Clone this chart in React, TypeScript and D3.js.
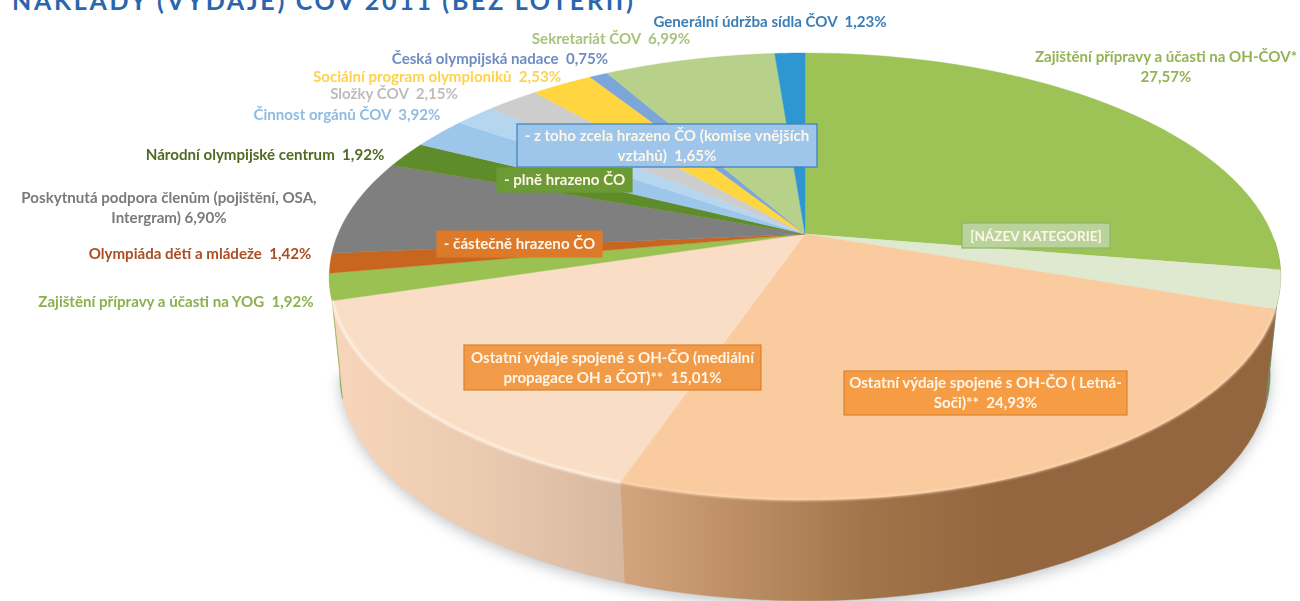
import React from "react";
import * as d3 from "d3";

const W = 1300, H = 601;
const categories = [
  "Zajištění přípravy a účasti na OH-ČOV", "Název kategorie", "Ostatní Letná-Soči", "Ostatní mediální",
  "YOG", "Olympiáda dětí a mládeže", "Podpora členům", "Národní olympijské centrum",
  "Činnost orgánů - plně", "Činnost orgánů - z toho", "Složky ČOV", "Sociální program",
  "Česká olympijská nadace", "Sekretariát ČOV", "Generální údržba",
];
const values = [27.57, 2.76, 24.93, 15.01, 1.92, 1.42, 6.90, 1.92, 2.27, 1.65, 2.15, 2.53, 0.75, 6.99, 1.23];
const colors = ["#9DC356", "#DEE9CF", "#FBCBA0", "#FADDC5", "#9BC152", "#C8661F", "#7F7F7F", "#5F8C2B", "#9CC7EA", "#B6D6EF", "#CDCDCD", "#FFD640", "#7CA5DA", "#B7D08A", "#2E97D2"];

type Lab = { lines: string[]; x: number; y: number; color: string };
const labels: Lab[] = [
  { lines: ["Generální údržba sídla ČOV  1,23%"], x: 770, y: 27, color: "#3E7DB5" },
  { lines: ["Sekretariát ČOV  6,99%"], x: 611, y: 44, color: "#A8C47A" },
  { lines: ["Česká olympijská nadace  0,75%"], x: 500, y: 64, color: "#6E8CC4" },
  { lines: ["Sociální program olympioniků  2,53%"], x: 437, y: 82, color: "#FFD24D" },
  { lines: ["Složky ČOV  2,15%"], x: 394, y: 99, color: "#BDBDBD" },
  { lines: ["Činnost orgánů ČOV  3,92%"], x: 347, y: 120, color: "#8FBCE3" },
  { lines: ["Národní olympijské centrum  1,92%"], x: 265, y: 160, color: "#4F6B22" },
  { lines: ["Poskytnutá podpora členům (pojištění, OSA,", "Intergram) 6,90%"], x: 169, y: 203, color: "#7A7A7A" },
  { lines: ["Olympiáda dětí a mládeže  1,42%"], x: 200, y: 259, color: "#A94F22" },
  { lines: ["Zajištění přípravy a účasti na YOG  1,92%"], x: 176, y: 307, color: "#8DB04E" },
  { lines: ["Zajištění přípravy a účasti na OH-ČOV*", "27,57%"], x: 1166, y: 62, color: "#93B354" },
];
type Box = { lines: string[]; x0: number; y0: number; x1: number; y1: number; fill: string; stroke: string; size?: number };
const boxes: Box[] = [
  { lines: ["- z toho zcela hrazeno ČO (komise vnějších", "vztahů)  1,65%"], x0: 517, y0: 124, x1: 817, y1: 167, fill: "#9DC6EA", stroke: "#3F7FB5" },
  { lines: ["- plně hrazeno ČO"], x0: 497, y0: 168, x1: 632, y1: 192, fill: "#6C9A34", stroke: "#6C9A34" },
  { lines: ["- částečně hrazeno ČO"], x0: 437, y0: 231, x1: 602, y1: 257, fill: "#DC7A2A", stroke: "#DC7A2A" },
  { lines: ["[NÁZEV KATEGORIE]"], x0: 962, y0: 223, x1: 1110, y1: 248, fill: "#B9D39A", stroke: "#8FB46A", size: 13.6 },
  { lines: ["Ostatní výdaje spojené s OH-ČO (mediální", "propagace OH a ČOT)**  15,01%"], x0: 464, y0: 345, x1: 761, y1: 390, fill: "#F19A46", stroke: "#D9822F" },
  { lines: ["Ostatní výdaje spojené s OH-ČO ( Letná-", "Soči)**  24,93%"], x0: 844, y0: 371, x1: 1127, y1: 415, fill: "#F59C45", stroke: "#D9822F" },
];

const cx = 805, cy = 234;
const persp = 0.19, aY = 215.4, cX = 467;
const rim = (t: number): [number, number] => {
  const u = Math.sin(t), v = -Math.cos(t), d = 1 - persp * v;
  return [cx + (cX * u) / d, cy + (aY * v) / d];
};
// lower edge of the wall: slightly narrower and shifted down
const low = (t: number): [number, number] => {
  const [x, y] = rim(t);
  return [cx + (x - cx) * 0.978, y + 98 + (y - 277) * 0.013];
};
const arcs = d3.pie<number>().sort(null).value((d) => d)(values);
const line = d3.line();
const samples = (a: number, b: number) => d3.range(0, 41).map((i) => a + ((b - a) * i) / 40);
const topPath = (a: number, b: number) => line([[cx, cy], ...samples(a, b).map(rim)])! + "Z";
const wallPath = (a: number, b: number) => line([...samples(a, b).map(rim), ...samples(b, a).map(low)])! + "Z";
const wallA = (92 * Math.PI) / 180, wallB = arcs[4].endAngle;
const outline = line([...samples(wallA, wallB).map(low)])!;
const font = "Lato, 'Open Sans', sans-serif";

export default function App() {
  const seam = arcs[2].endAngle;
  return (
    <svg width={W} height={H} style={{ position: "absolute", left: 0, top: 0, background: "#fff" }} fontFamily={font}>
      <defs>
        <filter id="sh" x="-10%" y="-10%" width="120%" height="130%"><feGaussianBlur stdDeviation="7" /></filter>
        <filter id="soft" x="-5%" y="-20%" width="110%" height="140%"><feGaussianBlur stdDeviation="1.2" /></filter>
        <filter id="tx" x="-5%" y="-20%" width="110%" height="140%"><feGaussianBlur stdDeviation="0.3" /></filter>
        <linearGradient id="wallBrown" gradientUnits="userSpaceOnUse" x1={626} x2={1000} y1={0} y2={0}>
          <stop offset="0" stopColor="#D2A47D" />
          <stop offset="0.3" stopColor="#BD8E66" />
          <stop offset="0.65" stopColor="#A17449" />
          <stop offset="1" stopColor="#93663F" />
        </linearGradient>
        <linearGradient id="wallPeach" gradientUnits="userSpaceOnUse" x1={335} x2={626} y1={0} y2={0}>
          <stop offset="0" stopColor="#F6D5BB" />
          <stop offset="0.5" stopColor="#EBCBB0" />
          <stop offset="1" stopColor="#D6B79F" />
        </linearGradient>
      </defs>
      <text x={12} y={10} fontSize={25} fontWeight={700} letterSpacing={2.7} fill="#2A66AE">NÁKLADY (VÝDAJE) ČOV 2011 (BEZ LOTERIÍ)</text>

      <path d={outline + "Z"} fill="#8E949C" opacity={0.55} filter="url(#sh)" transform="translate(0,4)" />
      {arcs.map((a, i) => {
        const s = Math.max(a.startAngle, wallA), e = Math.min(a.endAngle, wallB);
        if (e <= s) return null;
        const fill = i === 2 ? "url(#wallBrown)" : i === 3 ? "url(#wallPeach)" : i === 4 ? "#86AB4A" : "#6F8F5F";
        return <path key={i} d={wallPath(s, e)} fill={fill} stroke={fill} strokeWidth={0.4} />;
      })}
      {arcs.map((a, i) => (
        <path key={i} d={topPath(a.startAngle, a.endAngle)} fill={colors[i]} stroke={colors[i]} strokeWidth={0.4} />
      ))}
      <path d={line(samples(arcs[3].startAngle, arcs[3].endAngle).map(rim))!} fill="none" stroke="#FFF3E6" strokeWidth={2.5} filter="url(#soft)" />
      <path d={line(samples(arcs[2].startAngle, seam).map(rim))!} fill="none" stroke="#FFDDBB" strokeWidth={2} opacity={0.8} filter="url(#soft)" />

      <g fontSize={15.1} fontWeight={700} filter="url(#tx)">
        {labels.map((l, i) => (
          <text key={i} textAnchor="middle" fill={l.color}>
            {l.lines.map((t, j) => <tspan key={j} x={l.x} y={l.y + j * 20} style={{ whiteSpace: "pre" }}>{t}</tspan>)}
          </text>
        ))}
        {boxes.map((b, i) => {
          const mx = (b.x0 + b.x1) / 2, my = (b.y0 + b.y1) / 2;
          const n = b.lines.length;
          return (
            <g key={i}>
              <rect x={b.x0} y={b.y0} width={b.x1 - b.x0} height={b.y1 - b.y0} fill={b.fill} stroke={b.stroke} strokeWidth={1.2} />
              <text textAnchor="middle" fill="#FFF6EA" fontSize={b.size}>
                {b.lines.map((t, j) => <tspan key={j} x={mx} y={my + 5 + (j - (n - 1) / 2) * 20} style={{ whiteSpace: "pre" }}>{t}</tspan>)}
              </text>
            </g>
          );
        })}
      </g>
    </svg>
  );
}
